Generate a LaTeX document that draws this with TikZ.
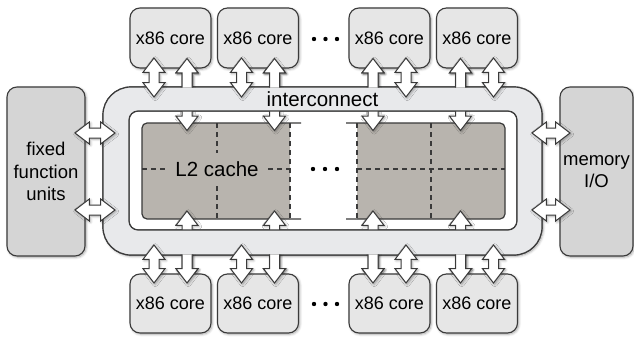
\documentclass[tikz,border=0pt]{standalone}
\usepackage{fontspec}
\setmainfont{Liberation Sans}
\usetikzlibrary{shapes.arrows,shadows.blur}

\definecolor{edgegray}{HTML}{3A3A3A}
\definecolor{corefill}{HTML}{E6E6E6}
\definecolor{unitfill}{HTML}{D5D5D5}
\definecolor{busfill}{HTML}{E8E9EB}
\definecolor{cachefill}{HTML}{B8B4AE}

\begin{document}
\begin{tikzpicture}[x=1pt,y=-1pt,
	softshadow/.style={blur shadow={shadow xshift=1.2pt,shadow yshift=-1.2pt,shadow blur radius=2.5pt,shadow blur steps=6,shadow opacity=35}},
	core/.style={draw=edgegray,line width=1.1pt,fill=corefill,rounded corners=10pt,minimum width=81pt,minimum height=60pt,inner sep=0pt,font=\fontsize{18}{21}\selectfont,softshadow},
	unit/.style={draw=edgegray,line width=1.1pt,fill=unitfill,rounded corners=10pt,minimum height=169pt,inner sep=0pt,align=center,font=\fontsize{18.5}{22.5}\selectfont,softshadow},
	dblarrow/.style={double arrow,draw=edgegray,fill=white,line width=1pt,inner xsep=0pt,inner ysep=4.5pt,double arrow head extend=6pt,double arrow tip angle=75,softshadow},
	ringline/.style={draw=edgegray,line width=1.2pt},
	cachedash/.style={draw=edgegray,line width=1.2pt,dash pattern=on 5pt off 4pt}]
			\useasboundingbox (0,0) rectangle (634,337);

			% interconnect ring, background with its shadow
			\node[ringline,fill=busfill,rounded corners=28pt,minimum width=439pt,minimum height=168pt,softshadow] (ic) at (322.5,171) {};
			\node[ringline,fill=white,rounded corners=9pt,minimum width=388pt,minimum height=119pt] (icin) at (323,170.5) {};

			% L2 cache, left and right halves
			\fill[cachefill,rounded corners=5pt] (290,123) -- (142,123) -- (142,219) -- (290,219);
			\fill[cachefill,rounded corners=5pt] (357,123) -- (505,123) -- (505,219) -- (357,219);
			\draw[ringline,rounded corners=5pt] (301,123) -- (142,123) -- (142,219) -- (301,219);
			\draw[ringline,rounded corners=5pt] (346,123) -- (505,123) -- (505,219) -- (346,219);
			\draw[cachedash] (290,123) -- (290,219) (357,123) -- (357,219);
			\draw[cachedash] (217,123) -- (217,219) (431,123) -- (431,219);
			\draw[cachedash] (142,169) -- (290,169) (357,169) -- (505,169);
			\node[fill=cachefill,inner xsep=7pt,inner ysep=8pt,font=\fontsize{20.5}{24}\selectfont] (l2) at (217,169) {L2 cache};
			\fill (313,169) circle (2.2pt) (325,169) circle (2.2pt) (337,169) circle (2.2pt);

			% core <-> cache, running under the ring
			\node[dblarrow,rotate=90,minimum height=72pt] (at2) at (187,94.5) {};
			\node[dblarrow,rotate=90,minimum height=72pt] (at4) at (274.5,94.5) {};
			\node[dblarrow,rotate=90,minimum height=72pt] (at5) at (373,94.5) {};
			\node[dblarrow,rotate=90,minimum height=72pt] (at7) at (460.5,94.5) {};
			\node[dblarrow,rotate=90,minimum height=72pt] (ab2) at (187,247) {};
			\node[dblarrow,rotate=90,minimum height=72pt] (ab4) at (274.5,247) {};
			\node[dblarrow,rotate=90,minimum height=72pt] (ab5) at (373,247) {};
			\node[dblarrow,rotate=90,minimum height=72pt] (ab7) at (460.5,247) {};

			% ring drawn again on top of them
			\fill[busfill,even odd rule] [rounded corners=28pt] (103,87) rectangle (542,255) [rounded corners=9pt] (129,111) rectangle (517,230);
			\draw[ringline,rounded corners=28pt] (103,87) rectangle (542,255);
			\draw[ringline,rounded corners=9pt] (129,111) rectangle (517,230);
			\node[font=\fontsize{20.5}{24}\selectfont,anchor=base] (ictext) at (322.5,106) {interconnect};

			% cores above and below
			\node[core] (ct1) at (170.5,38) {x86 core};
			\node[core] (ct2) at (258,38) {x86 core};
			\node[core] (ct3) at (389.5,38) {x86 core};
			\node[core] (ct4) at (477,38) {x86 core};
			\node[core,minimum height=59pt] (cb1) at (170.5,303.5) {x86 core};
			\node[core,minimum height=59pt] (cb2) at (258,303.5) {x86 core};
			\node[core,minimum height=59pt] (cb3) at (389.5,303.5) {x86 core};
			\node[core,minimum height=59pt] (cb4) at (477,303.5) {x86 core};
			\fill (314,39) circle (2.2pt) (325.5,39) circle (2.2pt) (337,39) circle (2.2pt);
			\fill (314,304) circle (2.2pt) (325.5,304) circle (2.2pt) (337,304) circle (2.2pt);

			% side units
			\node[unit,minimum width=78pt] (ffu) at (46,171.5) {fixed\\function\\units};
			\node[unit,minimum width=73pt] (mio) at (596.5,171.5) {memory\\I/O};

			% core ends of the long arrows, over the cores
			\begin{scope}
				\clip (0,0) rectangle (634,87.6) (0,254.4) rectangle (634,337);
				\node[dblarrow,rotate=90,minimum height=72pt] at (187,94.5) {};
				\node[dblarrow,rotate=90,minimum height=72pt] at (274.5,94.5) {};
				\node[dblarrow,rotate=90,minimum height=72pt] at (373,94.5) {};
				\node[dblarrow,rotate=90,minimum height=72pt] at (460.5,94.5) {};
				\node[dblarrow,rotate=90,minimum height=72pt] at (187,247) {};
				\node[dblarrow,rotate=90,minimum height=72pt] at (274.5,247) {};
				\node[dblarrow,rotate=90,minimum height=72pt] at (373,247) {};
				\node[dblarrow,rotate=90,minimum height=72pt] at (460.5,247) {};
			\end{scope}

			% core <-> ring
			\node[dblarrow,rotate=90,minimum height=39pt] (at1) at (154,77.5) {};
			\node[dblarrow,rotate=90,minimum height=39pt] (at3) at (241.5,77.5) {};
			\node[dblarrow,rotate=90,minimum height=39pt] (at6) at (406,77.5) {};
			\node[dblarrow,rotate=90,minimum height=39pt] (at8) at (493.5,77.5) {};
			\node[dblarrow,rotate=90,minimum height=38pt] (ab1) at (154,264) {};
			\node[dblarrow,rotate=90,minimum height=38pt] (ab3) at (241.5,264) {};
			\node[dblarrow,rotate=90,minimum height=38pt] (ab6) at (406,264) {};
			\node[dblarrow,rotate=90,minimum height=38pt] (ab8) at (493.5,264) {};

			% units <-> ring
			\node[dblarrow,minimum height=40pt] (al1) at (95,133) {};
			\node[dblarrow,minimum height=40pt] (al2) at (95,210) {};
			\node[dblarrow,minimum height=38pt] (ar1) at (551,133) {};
			\node[dblarrow,minimum height=38pt] (ar2) at (551,210) {};
		\end{tikzpicture}
\end{document}
